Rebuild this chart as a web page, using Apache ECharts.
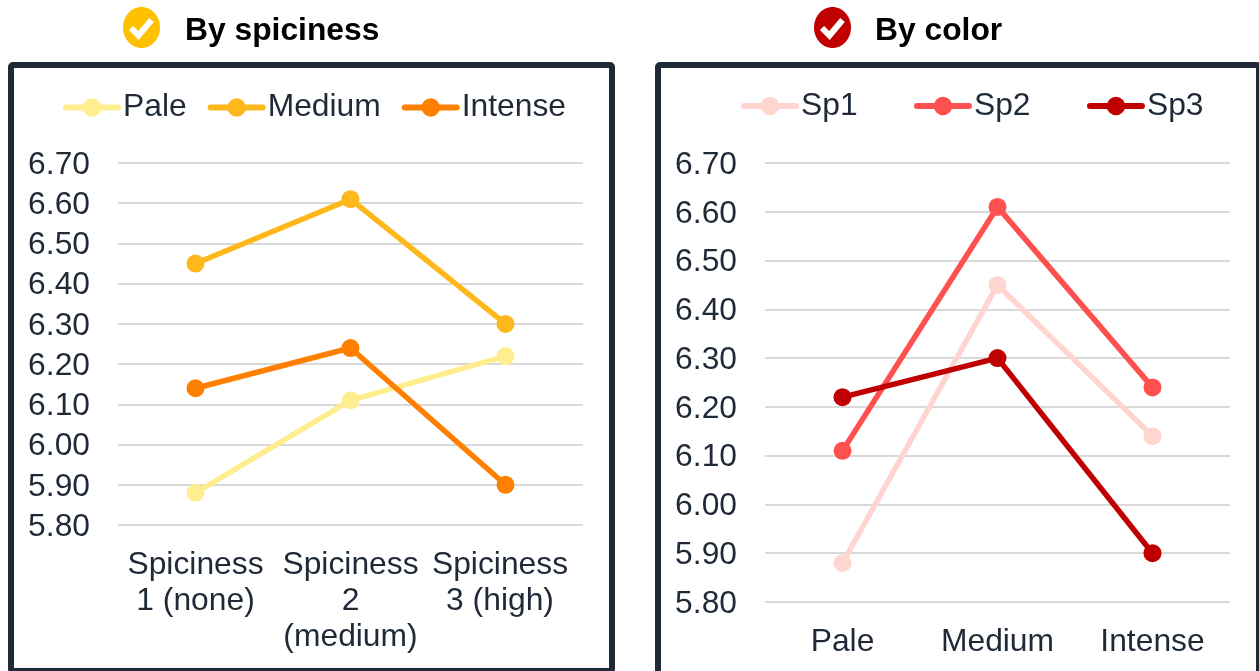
<!DOCTYPE html>
<html><head><meta charset="utf-8">
<style>html,body{margin:0;padding:0;background:#fff;overflow:hidden}#c{width:1259px;height:671px}</style>
<script src="https://cdn.jsdelivr.net/npm/echarts@6/dist/echarts.min.js"></script>
</head><body><div id="c"></div>
<script>
const spiceCategories = ['Spiciness\n1 (none)', 'Spiciness\n2\n(medium)', 'Spiciness\n3 (high)'];
const colorCategories = ['Pale', 'Medium', 'Intense'];
const yTicks = { min: 5.8, max: 6.7, interval: 0.1 };
const pale = [5.88, 6.11, 6.22];
const medium = [6.45, 6.61, 6.30];
const intense = [6.14, 6.24, 5.90];
const sp1 = [5.88, 6.45, 6.14];
const sp2 = [6.11, 6.61, 6.24];
const sp3 = [6.22, 6.30, 5.90];

const INK = '#1F2937', FONT = '"Liberation Sans", Arial, sans-serif', FS = 31.8;
const chart = echarts.init(document.getElementById('c'), null, {renderer:'canvas'});

function line(name, data, color, xi) {
  return { name, type:'line', data, xAxisIndex:xi, yAxisIndex:xi, symbol:'circle', symbolSize:18,
    lineStyle:{color, width:5.5, cap:'round'}, itemStyle:{color}, emphasis:{disabled:true}, z:3 };
}
function xAxis(gi, data) {
  return { type:'category', gridIndex:gi, boundaryGap:true,
    data: data.map((value,i)=> (gi===0 && i===2) ? {value, textStyle:{padding:[0,11,0,0]}} : value),
    axisLine:{show:false}, axisTick:{show:false},
    axisLabel:{interval:0, color:INK, fontFamily:FONT, fontSize:FS, lineHeight:36, margin:22} };
}
function yAxis(gi) {
  return { type:'value', gridIndex:gi, min:yTicks.min, max:yTicks.max, interval:yTicks.interval,
    axisLine:{show:false}, axisTick:{show:false},
    splitLine:{show:true, lineStyle:{color:'#D9D9D9', width:2}},
    axisLabel:{color:INK, fontFamily:FONT, fontSize:FS, margin:28, verticalAlign:'top', lineHeight:4, formatter:v=>v.toFixed(2)} };
}
function legend(names, left, top, gap) {
  return { data:names, left, top, orient:'horizontal', itemWidth:52, itemHeight:23, itemGap:gap, padding:0,
    lineStyle:{width:6, cap:'round'},
    textStyle:{color:INK, fontFamily:FONT, fontSize:FS}, selectedMode:false };
}
function panel(x, w, h) {
  return { type:'rect', shape:{x, y:65, width:w, height:h, r:2}, style:{fill:'#fff', stroke:INK, lineWidth:6}, z:-10 };
}
function badge(cx, color) {
  return [
    { type:'ellipse', shape:{cx, cy:27.5, rx:18.5, ry:20.5}, style:{fill:color}, z:5 },
    { type:'polyline', shape:{points:[[cx-10.5,28],[cx-3,35.5],[cx+10,20]]}, style:{fill:'none', stroke:'#fff', lineWidth:6}, z:6 }
  ];
}
function title(x, text) {
  return { type:'text', x, y:31.5, style:{text, fill:'#000', font:'bold 31.8px '+FONT, textVerticalAlign:'middle'}, z:5 };
}

chart.setOption({
  animation:false, backgroundColor:'#fff',
  grid:[
    {left:118, width:465, top:163, height:362},
    {left:765, width:465, top:163, height:439}
  ],
  xAxis:[xAxis(0, spiceCategories), xAxis(1, colorCategories)],
  yAxis:[yAxis(0), yAxis(1)],
  legend:[
    legend(['Pale','Medium','Intense'], 63, 91.5, 21),
    legend(['Sp1','Sp2','Sp3'], 741, 90, 56.4)
  ],
  series:[
    line('Pale', pale, '#FFEE8F', 0),
    line('Medium', medium, '#FFB81C', 0),
    line('Intense', intense, '#FF8000', 0),
    line('Sp1', sp1, '#FFD5D0', 1),
    line('Sp2', sp2, '#FF5050', 1),
    line('Sp3', sp3, '#C00000', 1)
  ],
  graphic:[
    panel(11, 601, 606),
    panel(658, 601, 660),
    ...badge(141.5, '#FFC000'),
    ...badge(832.5, '#C00000'),
    title(185, 'By spiciness'),
    title(875, 'By color')
  ]
});
</script></body></html>
